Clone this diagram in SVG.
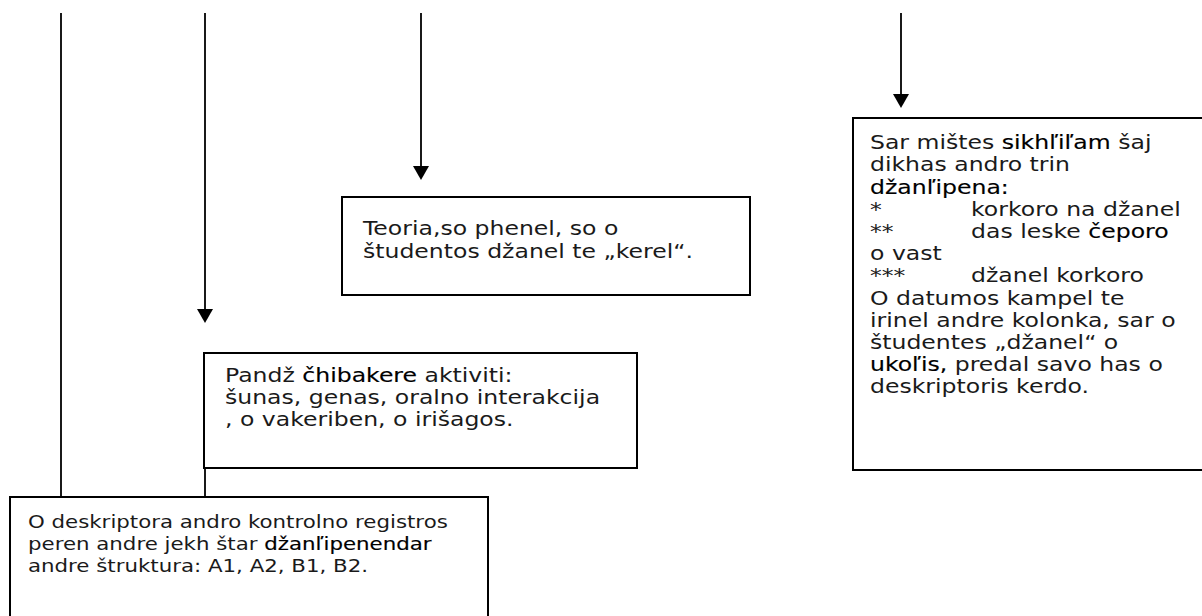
<svg xmlns="http://www.w3.org/2000/svg" width="1202" height="616" viewBox="0 0 1202 616">
<style>
  .box { fill: #ffffff; stroke: #000000; stroke-width: 2; }
  .conn { fill: none; stroke: #000000; stroke-width: 1.8; }
  .t { font-family: "DejaVu Sans", Verdana, sans-serif; font-size: 19px; fill: #1a1a1a; }
  .s { font-size: 17px; }
  .fb { fill: #000000; stroke: #000000; stroke-width: 0.15; }
</style>
<defs>
  <marker id="arrow" viewBox="0 0 14 16" refX="0" refY="8" markerWidth="14" markerHeight="16" markerUnits="userSpaceOnUse" orient="auto">
    <path d="M0,0 L14,8 L0,16 z" fill="#000000"/>
  </marker>
</defs>
<rect width="1202" height="616" fill="#ffffff"/>

<g id="connectors">
  <line class="conn" x1="61" y1="13" x2="61" y2="497"/>
  <line class="conn" x1="205" y1="13" x2="205" y2="309" marker-end="url(#arrow)"/>
  <line class="conn" x1="205" y1="468" x2="205" y2="497"/>
  <line class="conn" x1="421" y1="13" x2="421" y2="166" marker-end="url(#arrow)"/>
  <line class="conn" x1="901" y1="13" x2="901" y2="94" marker-end="url(#arrow)"/>
</g>

<g id="node-teoria">
  <rect class="box" x="342" y="197" width="408" height="98"/>
  <g transform="matrix(1.24,0,0,1,-87.12,0)">
    <text class="t" x="363" y="235">Teoria,so phenel, so o</text>
    <text class="t" x="363" y="258">študentos džanel te „kerel“.</text>
  </g>
</g>

<g id="node-pandz">
  <rect class="box" x="204" y="353" width="433" height="115"/>
  <g transform="matrix(1.24,0,0,1,-54,0)">
    <text class="t" x="225" y="382">Pandž <tspan class="fb">čhibakere</tspan> aktiviti:</text>
    <text class="t" x="225" y="404">šunas, genas, oralno interakcija</text>
    <text class="t" x="225" y="426">, o vakeriben, o irišagos.</text>
  </g>
</g>

<g id="node-deskriptora">
  <rect class="box" x="10" y="497" width="478" height="130"/>
  <g transform="matrix(1.255,0,0,1,-7.14,0)">
    <text class="t s" x="28" y="528">O deskriptora andro kontrolno registros</text>
    <text class="t s" x="28" y="550">peren andre jekh štar <tspan class="fb">džanľipenendar</tspan></text>
    <text class="t s" x="28" y="572">andre štruktura: A1, A2, B1, B2.</text>
  </g>
</g>

<g id="node-sar-mistes">
  <rect class="box" x="853" y="118" width="360" height="352"/>
  <g transform="matrix(1.24,0,0,1,-208.8,0)">
    <text class="t" x="870" y="149">Sar mištes <tspan class="fb">sikhľiľam</tspan> šaj</text>
    <text class="t" x="870" y="171">dikhas andro trin</text>
    <text class="t" x="870" y="194"><tspan class="fb">džanľipena:</tspan></text>
    <text class="t" x="870" y="216">*</text>
    <text class="t" x="951.5" y="216">korkoro na džanel</text>
    <text class="t" x="870" y="238">**</text>
    <text class="t" x="951.5" y="238">das leske <tspan class="fb">čeporo</tspan></text>
    <text class="t" x="870" y="260">o vast</text>
    <text class="t" x="870" y="282">***</text>
    <text class="t" x="951.5" y="282">džanel korkoro</text>
    <text class="t" x="870" y="305">O datumos kampel te</text>
    <text class="t" x="870" y="327">irinel andre kolonka, sar o</text>
    <text class="t" x="870" y="349">študentes „džanel“ o</text>
    <text class="t" x="870" y="371"><tspan class="fb">ukoľis,</tspan> predal savo has o</text>
    <text class="t" x="870" y="393">deskriptoris kerdo.</text>
  </g>
</g>
</svg>
